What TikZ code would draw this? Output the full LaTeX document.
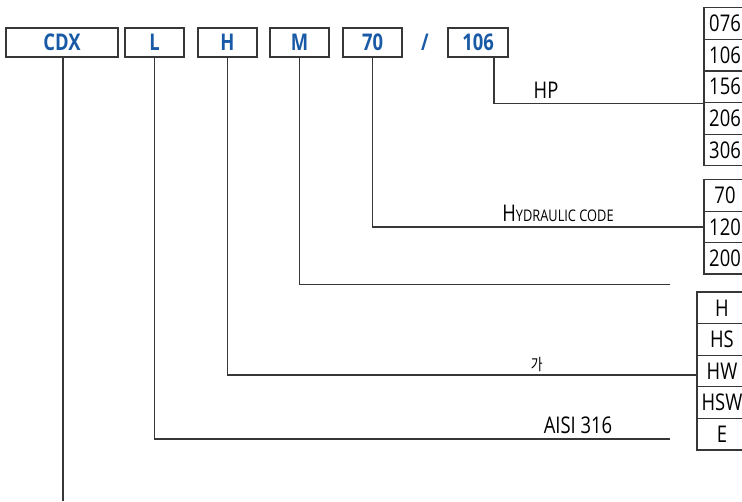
\documentclass[tikz,border=0pt]{standalone}
\usepackage{fontspec}
\setmainfont{Open Sans}[FakeStretch=0.8]
\newfontfamily\korfont{Noto Sans CJK KR}[FakeStretch=0.8]
\usetikzlibrary{positioning}
\definecolor{codeblue}{RGB}{24,90,165}
\definecolor{linegray}{RGB}{55,55,55}
\tikzset{
  codebox/.style={
    draw=linegray, rectangle, minimum height=29pt, inner sep=0pt, line width=1.2pt,
    text=codeblue, font=\fontsize{23}{26}\selectfont\bfseries
  },
  valbox/.style={
    draw=linegray, rectangle, minimum height=31.6pt, minimum width=42pt, inner sep=0pt,
    line width=1.2pt, font=\fontsize{23}{26}\selectfont
  },
  lbl/.style={anchor=base, inner sep=0pt, font=\fontsize{23}{26}\selectfont},
  link/.style={draw=linegray, line width=1.2pt}
}
\newcommand\hydlabel{{\fontsize{23}{26}\selectfont H}{\fontsize{16}{18}\selectfont YDRAULIC CODE}}

\begin{document}
\begin{tikzpicture}[x=1pt, y=-1pt]
 \useasboundingbox (0,0) rectangle (742,501);

 % code fields
 \node[codebox, minimum width=112pt] (cdx) at (62, 42.5) {CDX};
 \node[codebox, minimum width=59pt] (l) at (154.5, 42.5) {L};
 \node[codebox, minimum width=59pt] (h) at (227.5, 42.5) {H};
 \node[codebox, minimum width=59pt] (m) at (299.5, 42.5) {M};
 \node[codebox, minimum width=59pt] (hyd) at (372.5, 42.5) {70};
 \node[codebox, draw=none, minimum width=20pt] (slash) at (425, 42.5) {/};
 \node[codebox, minimum width=60pt] (hp) at (478, 42.5) {106};

 % value columns
 \foreach \t [count=\i] in {076,106,156,206,306}
   \node[valbox, text width=38pt, align=center] (hp\i) at (725, {7.7+31.6*(\i-0.5)}) {\t\hspace*{4pt}};
 \foreach \t [count=\i] in {70,120,200}
   \node[valbox, text width=38pt, align=center] (hc\i) at (725, {180+31.3*(\i-0.5)}) {\t\hspace*{4pt}};
 \foreach \t [count=\i] in {H,HS,HW,HSW,E}
   \node[valbox, minimum width=50pt, text width=46pt, align=center] (mat\i) at (722, {292+31.6*(\i-0.5)}) {\t\hspace*{4pt}};

 % loose ends
 \coordinate (mend) at (670, 284.5);
 \coordinate (lend) at (670, 439);
 \coordinate (cdxend) at (63, 501);

 % connectors
 \draw[link] ([xshift=16pt]hp.south) |- (hp3.south west);
 \draw[link] (hyd.south) |- (hc2.west);
 \draw[link] (m.south) |- (mend);
 \draw[link] (h.south) |- ([yshift=-4pt]mat3.west);
 \draw[link] (l.south) |- (lend);
 \draw[link] ([xshift=1pt]cdx.south) -- (cdxend);

 % labels
 \node[lbl] (hptext) at (546, 98) {HP};
 \node[lbl] (hydtext) at (558, 221.7) {\hydlabel};
 \node[lbl, font=\korfont\fontsize{16}{18}\selectfont] (htext) at (536.7, 370) {가};
 \node[lbl] (ltext) at (578, 433) {AISI 316};
\end{tikzpicture}
\end{document}
